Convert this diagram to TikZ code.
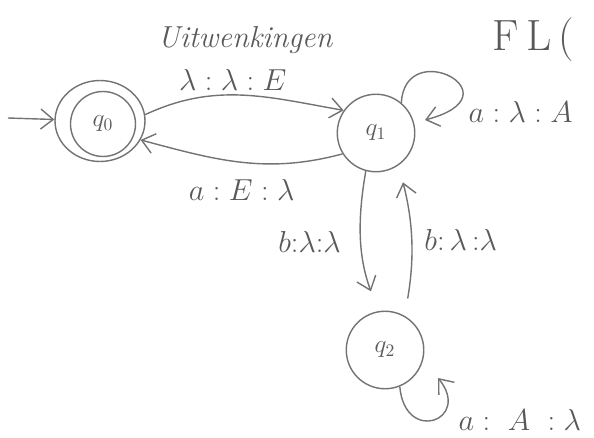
\documentclass[tikz,border=0pt]{standalone}
\usepackage{amsmath}
\usepackage{amssymb}
\usepackage{tikz}
\usetikzlibrary{shapes.geometric,arrows.meta}

\tikzset{
  stnode/.style={draw,circle,minimum size=1.55cm,inner sep=0pt,font=\Large},
  lbl/.style={font=\LARGE},
}

\begin{document}
\begin{tikzpicture}[thick,x=0.02cm,y=-0.02cm,draw=black!55,text=black!65,
  >={Straight Barb[length=2.5mm,width=4mm]}]

\useasboundingbox (0,0) rectangle (594,438);

% Heading
\node[font=\LARGE\itshape] (title) at (245,40) {Uitwenkingen};
\node[font=\Huge,anchor=west] (fl) at (486,40) {F\,L\,(};

% States
\node[draw,ellipse,minimum width=1.8cm,minimum height=1.62cm] (q0) at (100,121) {};
\node[stnode,minimum size=1.3cm] (q0in) at (103,124) {$q_0$};
\node[stnode] (q1) at (376,133) {$q_1$};
\node[stnode] (q2) at (385,350) {$q_2$};

% Start arrow
\coordinate (start) at (8,118);
\draw[->] (start) -- (q0);

% Transitions q0 <-> q1
\draw[->] (q0.8) to[out=25,in=170] node[lbl,pos=0.45,above=-1pt] {$\lambda : \lambda : E$} (q1.145);
\draw[->] (q1.212) to[out=195,in=-15] node[lbl,midway,below=6pt] {$a : E : \lambda$} (q0.-25);

% Loop on q1
\coordinate (l1end) at (425,120);
\draw[->] (q1.50) .. controls (405,35) and (520,95) .. (l1end);
\node[lbl,anchor=west] (l1lbl) at (462,112) {$a : \lambda : A$};

% Transitions q1 <-> q2
\draw[->,shorten >=12pt] (q1.-105) to[bend right=15] node[lbl,midway,left=8pt] {$b{:}\lambda{:}\lambda$} (q2.100);
\draw[->,shorten <=10pt,shorten >=10pt] (q2.60) to[bend right=12] node[lbl,midway,right=4pt] {$b{:}\,\lambda\,{:}\lambda$} (q1.-55);

% Loop on q2
\coordinate (l2end) at (438,378);
\draw[->] (q2.-68) .. controls (405,445) and (472,420) .. (l2end);
\node[lbl,anchor=west] (l2lbl) at (452,420) {$a :\ A\ : \lambda$};

\end{tikzpicture}
\end{document}
